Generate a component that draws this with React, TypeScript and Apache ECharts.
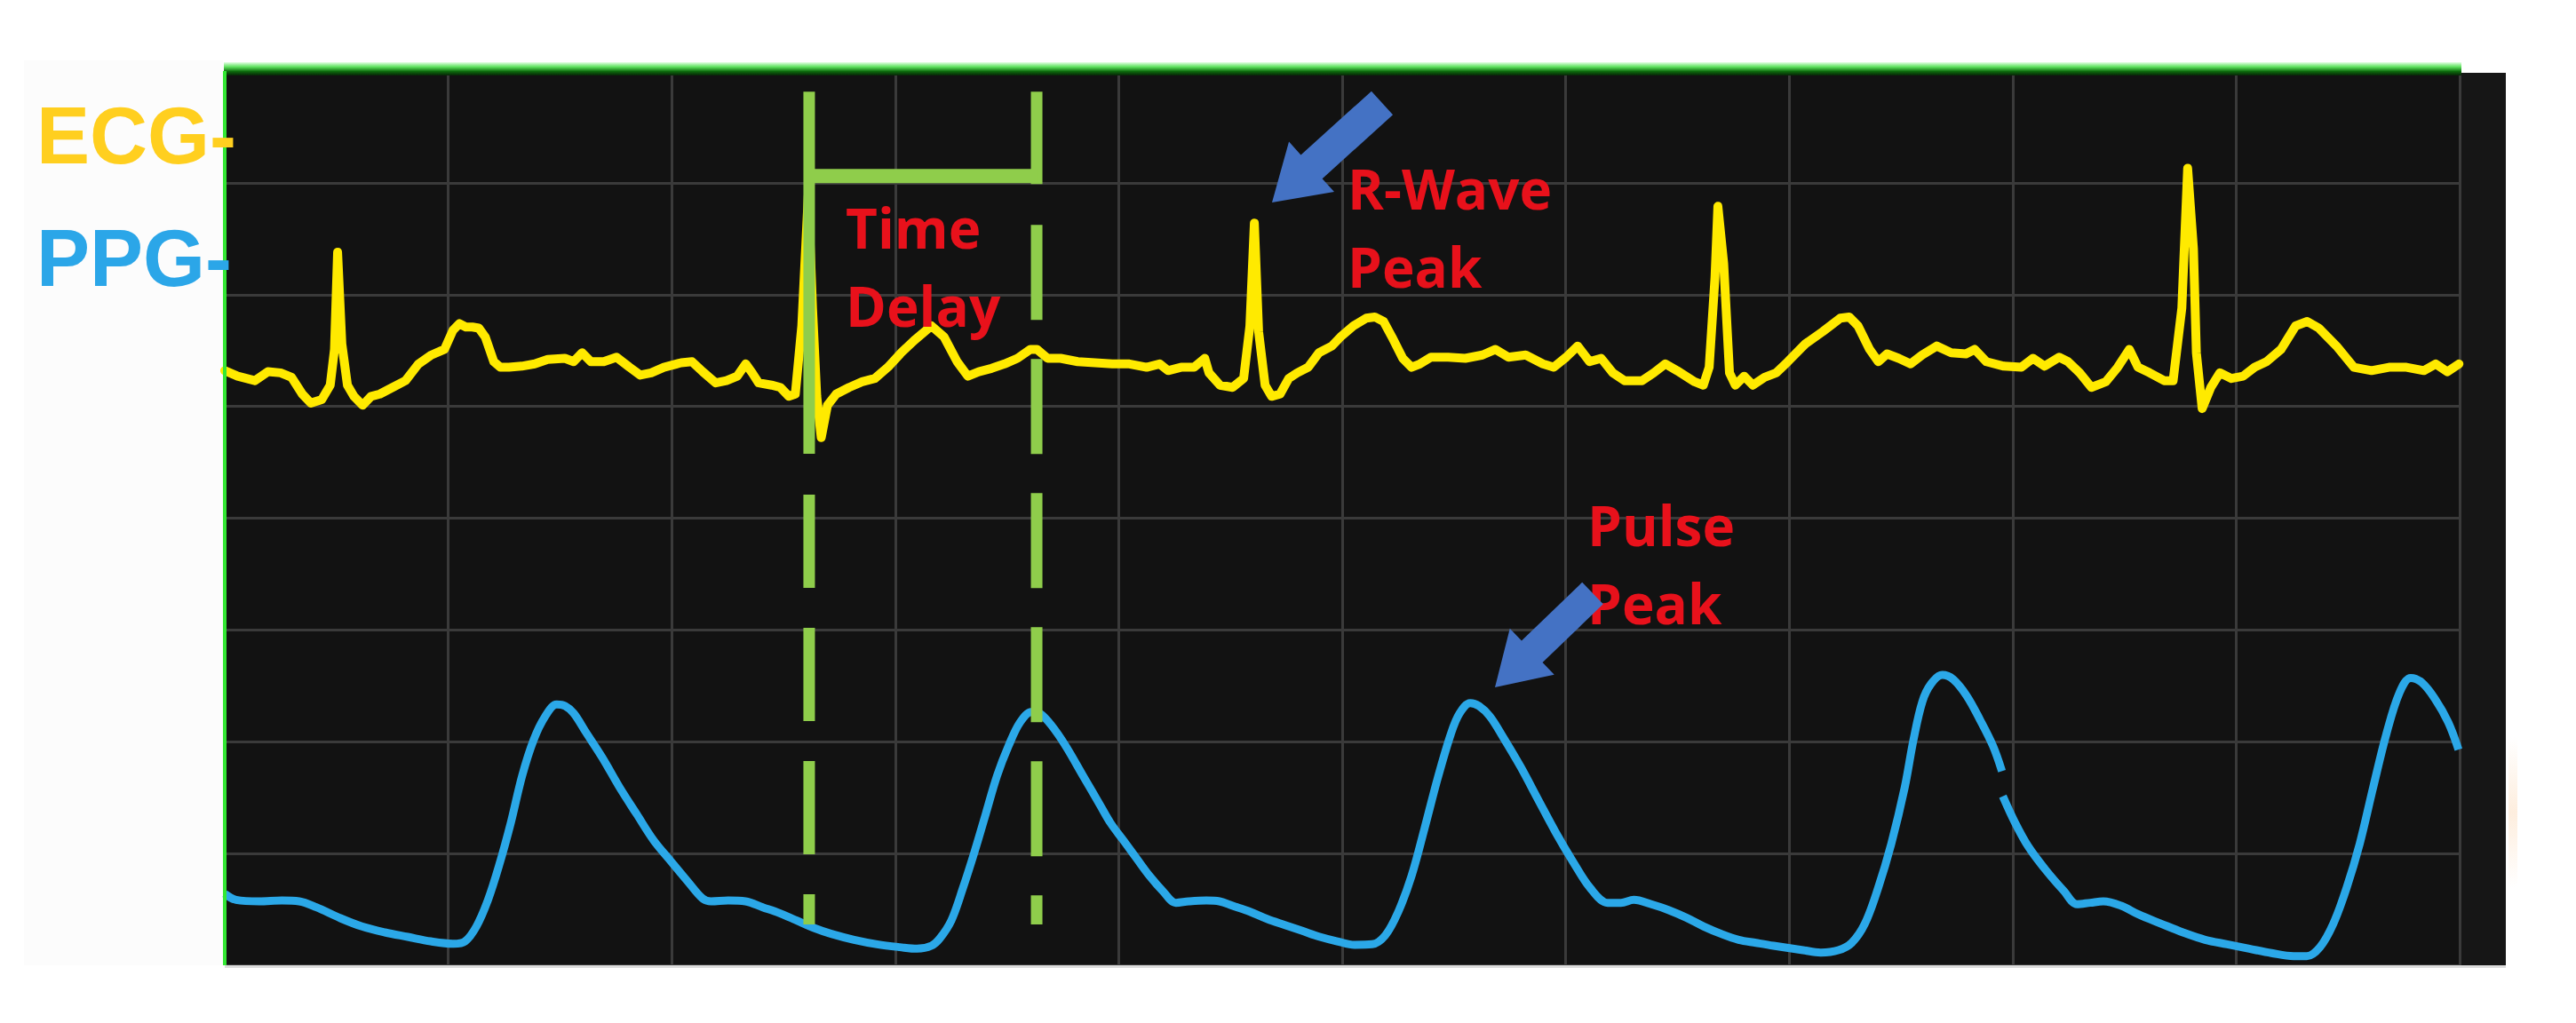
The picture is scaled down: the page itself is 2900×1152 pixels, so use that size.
import React, { useEffect, useRef } from "react";
import * as echarts from "echarts";

// ---- Data (grid units: x = time divisions 0..10, y = vertical divisions 0..8) ----
const xDivisions = [0, 10];
const yDivisions = [0, 8];

const channelNames = ["ECG-", "PPG-"];
const annotationTexts = ["Time\nDelay", "R-Wave\nPeak", "Pulse\nPeak"];

const ecgTrace = [
  [0, 5.32], [0.058, 5.27], [0.135, 5.23], [0.193, 5.31], [0.25, 5.3], [0.299, 5.26], [0.347, 5.11], [0.385, 5.03],
  [0.434, 5.06], [0.472, 5.19], [0.491, 5.51], [0.505, 6.38], [0.524, 5.56], [0.549, 5.19], [0.578, 5.09], [0.617, 5.01],
  [0.655, 5.09], [0.694, 5.11], [0.751, 5.17], [0.809, 5.23], [0.867, 5.38], [0.925, 5.46], [0.983, 5.51], [1.021, 5.68],
  [1.05, 5.74], [1.079, 5.71], [1.108, 5.71], [1.137, 5.7], [1.166, 5.62], [1.204, 5.4], [1.233, 5.35], [1.272, 5.35],
  [1.329, 5.36], [1.387, 5.38], [1.445, 5.42], [1.522, 5.43], [1.561, 5.4], [1.599, 5.48], [1.638, 5.4], [1.696, 5.4],
  [1.753, 5.44], [1.811, 5.35], [1.859, 5.28], [1.908, 5.3], [1.965, 5.35], [2.042, 5.39], [2.091, 5.4], [2.139, 5.31],
  [2.197, 5.21], [2.245, 5.23], [2.293, 5.27], [2.331, 5.38], [2.36, 5.3], [2.389, 5.21], [2.447, 5.19], [2.486, 5.17],
  [2.524, 5.09], [2.553, 5.11], [2.582, 5.72], [2.611, 6.89], [2.63, 5.88], [2.649, 5.09], [2.669, 4.72], [2.697, 5.01],
  [2.736, 5.11], [2.794, 5.17], [2.852, 5.22], [2.909, 5.25], [2.967, 5.35],
  [3.027, 5.48], [3.085, 5.59], [3.162, 5.72], [3.219, 5.62], [3.277, 5.4], [3.325, 5.27], [3.374, 5.31], [3.431, 5.34],
  [3.489, 5.38], [3.547, 5.43], [3.605, 5.51], [3.634, 5.51], [3.682, 5.43], [3.74, 5.43], [3.817, 5.4], [3.894, 5.39],
  [3.971, 5.38], [4.048, 5.38], [4.125, 5.35], [4.183, 5.38], [4.221, 5.32], [4.279, 5.35], [4.337, 5.35], [4.385, 5.43],
  [4.404, 5.3], [4.453, 5.19], [4.51, 5.17], [4.559, 5.25], [4.587, 5.72], [4.607, 6.64], [4.626, 5.67], [4.655, 5.19],
  [4.684, 5.09], [4.722, 5.11], [4.761, 5.25], [4.799, 5.3], [4.848, 5.35], [4.896, 5.48], [4.954, 5.54], [4.992, 5.62],
  [5.05, 5.72], [5.108, 5.79], [5.146, 5.8], [5.185, 5.76], [5.223, 5.62], [5.271, 5.43], [5.31, 5.35], [5.348, 5.38],
  [5.397, 5.44], [5.474, 5.44], [5.551, 5.43], [5.628, 5.46], [5.686, 5.51], [5.744, 5.44], [5.821, 5.46], [5.898, 5.38],
  [5.946, 5.35],
  [6.002, 5.44], [6.054, 5.54], [6.107, 5.4], [6.159, 5.43], [6.211, 5.3], [6.263, 5.23], [6.342, 5.23], [6.394, 5.3],
  [6.446, 5.38], [6.498, 5.32], [6.577, 5.22], [6.616, 5.19], [6.642, 5.35], [6.668, 6.15], [6.681, 6.79], [6.707, 6.28],
  [6.733, 5.3], [6.759, 5.19], [6.799, 5.27], [6.838, 5.19], [6.89, 5.26], [6.942, 5.3], [6.994, 5.4], [7.073, 5.56],
  [7.151, 5.67], [7.229, 5.79], [7.269, 5.8], [7.308, 5.72], [7.36, 5.51], [7.399, 5.4], [7.438, 5.47], [7.49, 5.43],
  [7.543, 5.38], [7.595, 5.46], [7.66, 5.54], [7.725, 5.48], [7.791, 5.47], [7.83, 5.51], [7.882, 5.4], [7.96, 5.36],
  [8.039, 5.35], [8.091, 5.43], [8.143, 5.36], [8.208, 5.44], [8.248, 5.4], [8.3, 5.3], [8.352, 5.17], [8.417, 5.22],
  [8.47, 5.35], [8.522, 5.51], [8.561, 5.35], [8.613, 5.3], [8.678, 5.23], [8.718, 5.23], [8.757, 5.88], [8.783, 7.13],
  [8.809, 6.41], [8.822, 5.48], [8.848, 4.98], [8.887, 5.17], [8.927, 5.3], [8.979, 5.25], [9.031, 5.27], [9.083, 5.35],
  [9.136, 5.4], [9.201, 5.51], [9.266, 5.72], [9.318, 5.76], [9.37, 5.7], [9.449, 5.54], [9.527, 5.35], [9.606, 5.32],
  [9.684, 5.35], [9.762, 5.35], [9.84, 5.32], [9.893, 5.38], [9.945, 5.31], [9.997, 5.38],
];

const ppgTrace = [
  [0, 0.64], [0.051, 0.585], [0.154, 0.572], [0.256, 0.58], [0.333, 0.572], [0.41, 0.519], [0.512, 0.426], [0.614, 0.347],
  [0.717, 0.294], [0.819, 0.254], [0.922, 0.214], [1.024, 0.193], [1.075, 0.214], [1.126, 0.347], [1.178, 0.585],
  [1.229, 0.903], [1.28, 1.274], [1.331, 1.697], [1.382, 2.015], [1.434, 2.227], [1.485, 2.333], [1.523, 2.319],
  [1.562, 2.253], [1.613, 2.094], [1.69, 1.856], [1.767, 1.591], [1.843, 1.353], [1.92, 1.115], [1.997, 0.929],
  [2.074, 0.744], [2.138, 0.598], [2.176, 0.572], [2.253, 0.58], [2.33, 0.572], [2.407, 0.519], [2.483, 0.466],
  [2.56, 0.4], [2.637, 0.334], [2.714, 0.281], [2.816, 0.228], [2.919, 0.188], [3.021, 0.162], [3.098, 0.148],
  [3.162, 0.175], [3.2, 0.241], [3.251, 0.4], [3.303, 0.691], [3.354, 1.009], [3.405, 1.353], [3.456, 1.697],
  [3.507, 1.962], [3.559, 2.174], [3.61, 2.267], [3.648, 2.253], [3.699, 2.147], [3.763, 1.962], [3.84, 1.697],
  [3.917, 1.432],
  [3.963, 1.274], [4.022, 1.115], [4.08, 0.956], [4.139, 0.797], [4.197, 0.665], [4.256, 0.559], [4.314, 0.572],
  [4.392, 0.58], [4.451, 0.572], [4.51, 0.532], [4.588, 0.479], [4.666, 0.413], [4.744, 0.36], [4.822, 0.307],
  [4.9, 0.254], [4.978, 0.214], [5.056, 0.183], [5.134, 0.188], [5.193, 0.268], [5.251, 0.479], [5.31, 0.797],
  [5.368, 1.221], [5.427, 1.671], [5.486, 2.068], [5.525, 2.253], [5.573, 2.346], [5.612, 2.319], [5.661, 2.227],
  [5.72, 2.041], [5.798, 1.777], [5.876, 1.485], [5.954, 1.194], [6.032, 0.929], [6.11, 0.691], [6.188, 0.559],
  [6.247, 0.559], [6.305, 0.585], [6.383, 0.546], [6.462, 0.493], [6.54, 0.426], [6.618, 0.347], [6.696, 0.281],
  [6.774, 0.228], [6.852, 0.201], [6.93, 0.175],
  [7.062, 0.135], [7.141, 0.114], [7.22, 0.135], [7.28, 0.201], [7.339, 0.373], [7.398, 0.691], [7.457, 1.088],
  [7.517, 1.591], [7.556, 2.015], [7.596, 2.359], [7.635, 2.518], [7.685, 2.597], [7.734, 2.558], [7.794, 2.412],
  [7.853, 2.2], [7.912, 1.962], [7.952, 1.737], [7.954, null], [7.956, 1.512], [8.011, 1.274], [8.07, 1.062],
  [8.149, 0.85], [8.229, 0.665], [8.288, 0.546], [8.347, 0.559], [8.406, 0.572], [8.486, 0.532], [8.565, 0.453],
  [8.663, 0.373], [8.762, 0.294], [8.861, 0.228], [8.96, 0.188], [9.059, 0.148], [9.158, 0.109], [9.257, 0.082],
  [9.316, 0.082], [9.375, 0.162], [9.435, 0.373], [9.494, 0.691], [9.553, 1.088], [9.613, 1.591], [9.672, 2.068],
  [9.731, 2.439], [9.781, 2.571], [9.83, 2.531], [9.889, 2.386], [9.949, 2.174], [9.995, 1.93],
];

// Time-delay bracket (x positions in divisions, y extents in divisions)
const delayX = [2.615, 3.633];
const bracketTop = 7.815;
const bracketBar = 7.06;
const leftSolidBottom = 4.575;
const leftDashTop = 4.21;
const rightSolidBottom = 6.99;
const rightDashTop = 6.624;
const dashBottom = 0.365;

function arrowShape(tail: number[], tip: number[], shaft: number, head: number, headLen: number) {
  const dx = tip[0] - tail[0];
  const dy = tip[1] - tail[1];
  const len = Math.hypot(dx, dy);
  const ux = dx / len, uy = dy / len;
  const nx = -uy, ny = ux;
  const bx = tip[0] - ux * headLen, by = tip[1] - uy * headLen;
  const s = shaft / 2, h = head / 2;
  return [
    [tail[0] + nx * s, tail[1] + ny * s],
    [bx + nx * s, by + ny * s],
    [bx + nx * h, by + ny * h],
    [tip[0], tip[1]],
    [bx - nx * h, by - ny * h],
    [bx - nx * s, by - ny * s],
    [tail[0] - nx * s, tail[1] - ny * s],
  ];
}

export default function App() {
  const ref = useRef<HTMLDivElement>(null);

  useEffect(() => {
    document.body.style.margin = "0";
    const chart = echarts.init(ref.current!, undefined, { renderer: "svg" });

    const GREEN = "#8FCD4B";
    const redFont = { fontFamily: "'Open Sans'", fontWeight: "bold", fontSize: 62, lineHeight: 88 };

    const option: any = {
      animation: false,
      backgroundColor: "#ffffff",
      grid: {
        left: 253,
        top: 80,
        width: 2516,
        height: 1007,
        show: true,
        backgroundColor: "#121212",
        borderWidth: 0,
        containLabel: false,
      },
      xAxis: {
        type: "value",
        min: xDivisions[0],
        max: xDivisions[1],
        interval: 1,
        axisLine: { show: false },
        axisTick: { show: false },
        axisLabel: { show: false },
        splitLine: { show: true, lineStyle: { color: "#3a3a3a", width: 3 } },
      },
      yAxis: {
        type: "value",
        min: yDivisions[0],
        max: yDivisions[1],
        interval: 1,
        axisLine: { show: false },
        axisTick: { show: false },
        axisLabel: { show: false },
        splitLine: { show: true, lineStyle: { color: "#3a3a3a", width: 3 } },
      },
      series: [
        {
          type: "line",
          name: "PPG",
          data: ppgTrace,
          symbol: "none",
          smooth: 0.35,
          connectNulls: false,
          lineStyle: { color: "#2BA8E8", width: 9, join: "round" },
          z: 3,
          silent: true,
        },
        {
          type: "line",
          name: "ECG",
          data: ecgTrace,
          symbol: "none",
          lineStyle: { color: "#FFEA00", width: 10, join: "round", cap: "round" },
          z: 3,
          silent: true,
        },
        {
          type: "line",
          data: [[delayX[0], bracketTop], [delayX[0], leftSolidBottom]],
          symbol: "none",
          lineStyle: { color: GREEN, width: 13, cap: "butt" },
          z: 4,
          silent: true,
        },
        {
          type: "line",
          data: [[delayX[1], bracketTop], [delayX[1], rightSolidBottom]],
          symbol: "none",
          lineStyle: { color: GREEN, width: 13, cap: "butt" },
          z: 4,
          silent: true,
        },
        {
          type: "line",
          data: [[delayX[0], bracketBar], [delayX[1], bracketBar]],
          symbol: "none",
          lineStyle: { color: GREEN, width: 16, cap: "butt" },
          z: 4,
          silent: true,
        },
        {
          type: "line",
          data: [[delayX[0], leftDashTop], [delayX[0], dashBottom]],
          symbol: "none",
          lineStyle: { color: GREEN, width: 13, cap: "butt", type: [105, 45] },
          z: 4,
          silent: true,
        },
        {
          type: "line",
          data: [[delayX[1], rightDashTop], [delayX[1], dashBottom]],
          symbol: "none",
          lineStyle: { color: GREEN, width: 13, cap: "butt", type: [107, 44] },
          z: 4,
          silent: true,
        },
      ],
      graphic: [
        // very faint panel behind the channel names
        { type: "rect", z: -10, shape: { x: 27, y: 68, width: 224, height: 1019 }, style: { fill: "#fcfcfc" } },
        // dark strip to the right of the grid
        { type: "rect", z: 1, shape: { x: 2771, y: 82, width: 50, height: 1005 }, style: { fill: "#161616" } },
        // bottom light edge
        { type: "rect", z: 1, shape: { x: 253, y: 1087, width: 2568, height: 3 }, style: { fill: "#dcdcdc" } },
        // faint peach smear on far right
        {
          type: "rect", z: 1, shape: { x: 2824, y: 830, width: 10, height: 170 },
          style: {
            fill: new echarts.graphic.LinearGradient(0, 0, 0, 1, [
              { offset: 0, color: "rgba(250,205,160,0)" },
              { offset: 0.5, color: "rgba(250,205,160,0.35)" },
              { offset: 1, color: "rgba(250,205,160,0)" },
            ]),
          },
        },
        // green top border
        {
          type: "rect",
          z: 20,
          shape: { x: 252, y: 70, width: 2519, height: 15 },
          style: {
            fill: new echarts.graphic.LinearGradient(0, 0, 0, 1, [
              { offset: 0, color: "#e6ffe6" },
              { offset: 0.35, color: "#5fe35f" },
              { offset: 0.7, color: "#0c6a0c" },
              { offset: 1, color: "#072407" },
            ]),
          },
        },
        // green left border
        { type: "rect", z: 20, shape: { x: 251, y: 80, width: 4, height: 1007 }, style: { fill: "#34e834" } },
        // channel names
        {
          type: "text", z: 20, x: 41, y: 153,
          style: { text: channelNames[0], fill: "#FFCF1F", fontFamily: "'Liberation Sans'", fontWeight: "bold", fontSize: 90, verticalAlign: "middle", align: "left" },
        },
        {
          type: "text", z: 20, x: 41, y: 291,
          style: { text: channelNames[1], fill: "#2BA6E8", fontFamily: "'Liberation Sans'", fontWeight: "bold", fontSize: 90, verticalAlign: "middle", align: "left" },
        },
        // red annotations
        { type: "text", z: 30, x: 952, y: 212, style: { text: annotationTexts[0], fill: "#E8111B", ...redFont, verticalAlign: "top", align: "left" } },
        { type: "text", z: 30, x: 1517, y: 168, style: { text: annotationTexts[1], fill: "#E8111B", ...redFont, verticalAlign: "top", align: "left" } },
        { type: "text", z: 30, x: 1787, y: 547, style: { text: annotationTexts[2], fill: "#E8111B", ...redFont, verticalAlign: "top", align: "left" } },
        // blue arrows
        { type: "polygon", z: 30, shape: { points: arrowShape([1556, 116], [1432, 228], 36, 76, 60) }, style: { fill: "#4472C4" } },
        { type: "polygon", z: 30, shape: { points: arrowShape([1793, 668], [1683, 774], 34, 72, 58) }, style: { fill: "#4472C4" } },
      ],
    };

    chart.setOption(option);
    return () => chart.dispose();
  }, []);

  return <div ref={ref} style={{ width: 2900, height: 1152 }} />;
}
